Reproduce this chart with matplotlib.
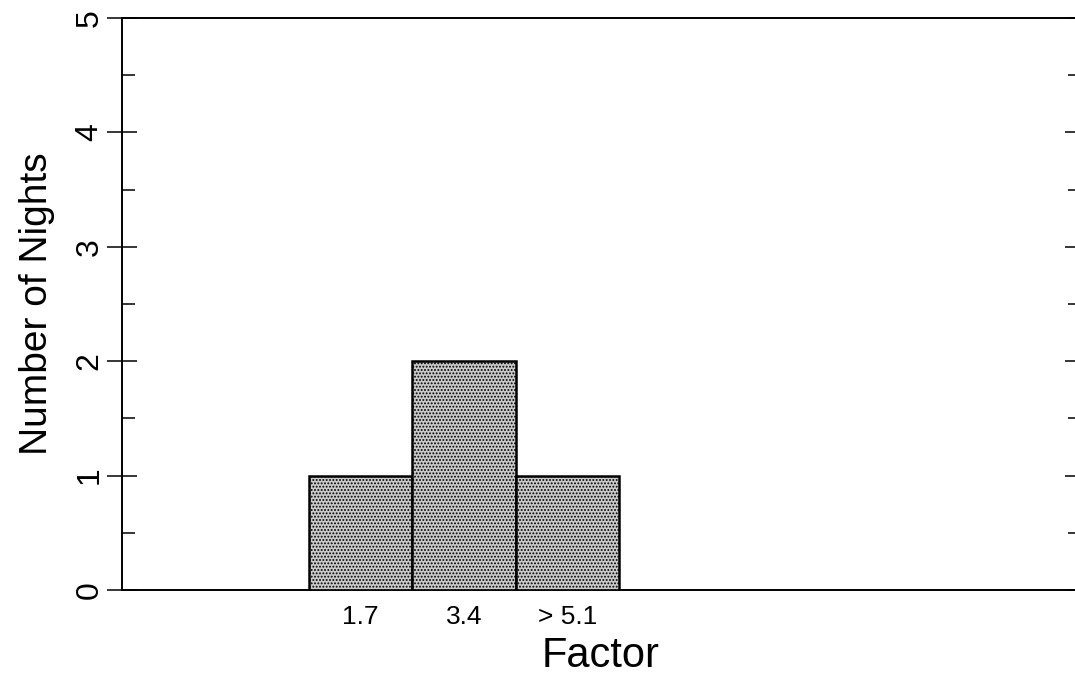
"""
Histogram of nights per factor bin.
"""

import matplotlib
matplotlib.use("Agg")
import matplotlib.pyplot as plt
from matplotlib.ticker import MultipleLocator

plt.rcParams['font.family'] = ['Liberation Sans', 'DejaVu Sans']
plt.rcParams['hatch.color'] = '#2a2a2a'
plt.rcParams['hatch.linewidth'] = 0.9

# Data
categories = ['1.7', '3.4', '> 5.1']
nights = [1, 2, 1]
y_ticks = [0, 1, 2, 3, 4, 5]

fig = plt.figure(figsize=(10.75, 6.92), dpi=100)
ax = fig.add_axes([122 / 1075, 102 / 692, 958 / 1075, 572 / 692])

positions = list(range(len(categories)))
ax.bar(positions, nights, width=1.0, facecolor='#cacaca', edgecolor='black',
       linewidth=1.8, hatch='.....', zorder=3)

ax.set_xlim(-2.31, 6.96)
ax.set_ylim(0, 5)

# x tick labels only, no tick marks
ax.set_xticks(positions)
ax.set_xticklabels(categories, fontsize=19)
ax.tick_params(axis='x', length=0, pad=11)

# y ticks: major crossing left spine, minor inward, mirrored on right
ax.set_yticks(y_ticks)
ax.set_yticklabels([str(t) for t in y_ticks], rotation=90, va='center', fontsize=23)
ax.yaxis.set_minor_locator(MultipleLocator(0.5))
ax.tick_params(axis='y', which='major', direction='inout', length=21,
               width=1.1, pad=2, right=True)
ax.tick_params(axis='y', which='minor', direction='in', length=9,
               width=1.1, right=True)

for side in ['left', 'right', 'top', 'bottom']:
    ax.spines[side].set_linewidth(1.4)

ax.set_ylabel('Number of Nights', fontsize=28, labelpad=14)
ax.set_xlabel('Factor', fontsize=30, labelpad=5)

fig.savefig('out.png', dpi=100)
